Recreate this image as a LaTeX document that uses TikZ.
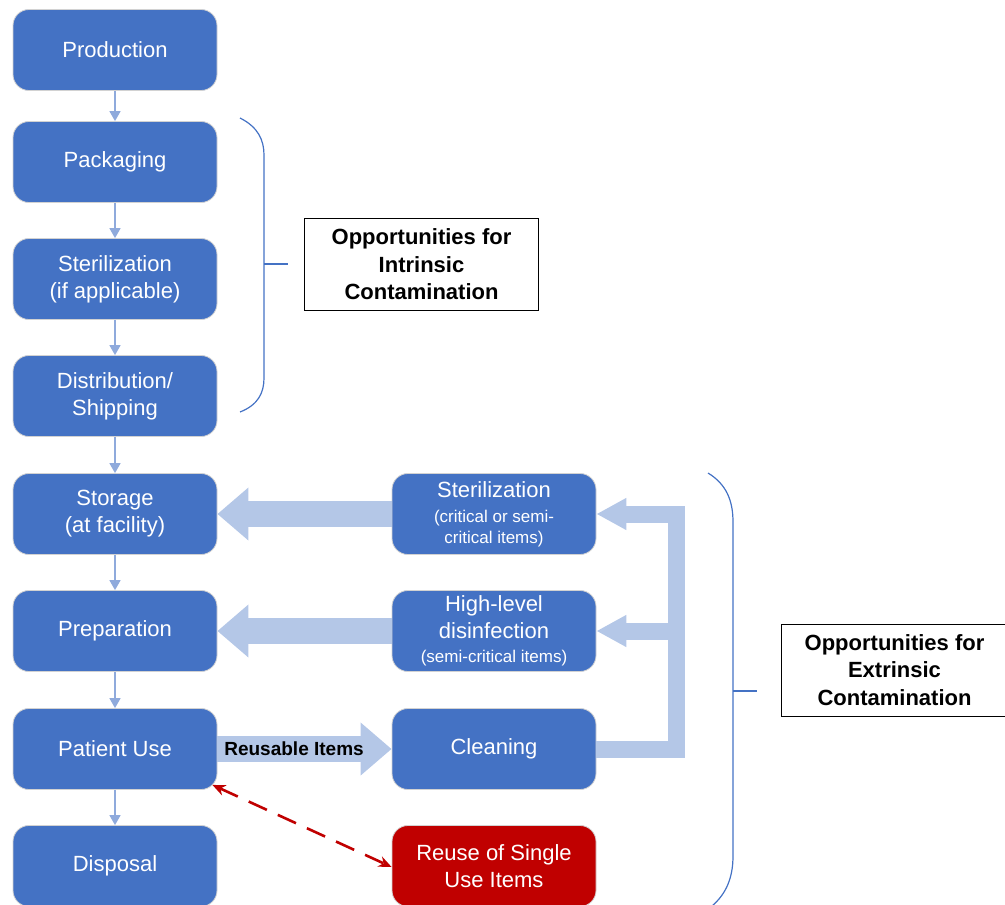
\documentclass[tikz,border=0pt]{standalone}
\usepackage{fontspec}
\setmainfont{Liberation Sans}
\usetikzlibrary{arrows.meta}
\definecolor{stepBlue}{HTML}{4472C4}
\definecolor{flowBlue}{HTML}{B4C7E7}
\definecolor{linkBlue}{HTML}{8FAADC}
\definecolor{reuseRed}{HTML}{C00000}
\newcommand{\smallnote}[1]{{\fontsize{17}{21}\selectfont #1}}
\tikzset{
  stage/.style={rectangle, rounded corners=16pt, fill=stepBlue, draw=gray!35, line width=0.8pt, text=white, minimum width=204pt, minimum height=81pt, align=center, font={\fontsize{22}{27}\selectfont}},
  badStage/.style={stage, fill=reuseRed},
%  note box on the right of each bracket
  note/.style={rectangle, draw=black, line width=1pt, fill=white, align=center, minimum height=92pt, font={\fontsize{22}{27.5}\selectfont\bfseries}},
  nextOp/.style={draw=linkBlue, line width=1.6pt, -{Triangle[width=11pt,length=10pt]}},
  bigFlow/.style={draw=flowBlue, line width=26pt, -{Triangle[width=51pt,length=31pt]}},
  backFlow/.style={draw=flowBlue, line width=17pt, line join=miter, -{Triangle[width=30pt,length=30pt]}},
  riskOp/.style={draw=reuseRed, line width=2.6pt, dash pattern=on 20pt off 12pt, {Stealth[length=13pt,width=11pt]}-{Stealth[length=13pt,width=11pt]}},
  bracket/.style={draw=stepBlue, line width=1.2pt}
}

\begin{document}
\begin{tikzpicture}[x=1pt, y=-1pt]
  \useasboundingbox (0,0) rectangle (1005,905);

  % left column
  \node[stage] (prod) at (115,50) {Production};
  \node[stage] (pack) at (115,162) {Packaging};
  \node[stage] (lster) at (115,279) {Sterilization\\(if applicable)};
  \node[stage] (dist) at (115,396) {Distribution/\\Shipping};
  \node[stage] (store) at (115,514) {Storage\\(at facility)};
  \node[stage] (prep) at (115,631) {Preparation};
  \node[stage] (use) at (115,749) {Patient Use};
  \node[stage] (disp) at (115,866) {Disposal};

  % reprocessing column
  \node[stage] (rster) at (494,514) {Sterilization\\[-2pt]\smallnote{(critical or semi-}\\[-6pt]\smallnote{critical items)}};
  \node[stage] (hld) at (494,631) {High-level\\disinfection\\[-3pt]\smallnote{(semi-critical items)}};
  \node[stage] (clean) at (494,749) {Cleaning};
  \node[badStage] (reuse) at (494,866) {Reuse of Single\\Use Items};

  \foreach \a/\b in {prod/pack, pack/lster, lster/dist, dist/store, store/prep, prep/use, use/disp}
    \draw[nextOp] (\a) -- (\b);

  \draw[bigFlow] (rster) -- (store);
  \draw[bigFlow] (hld) -- (prep);
  \draw[bigFlow] (use) -- node[pos=0.44, text=black, font={\fontsize{19}{22}\selectfont\bfseries}] (reusable) {Reusable Items} (clean);

  \draw[backFlow] (clean.east) -- ++(80,0) coordinate (turn) |- (rster.east);
  \draw[backFlow] (turn |- hld.east) -- (hld.east);

  \draw[riskOp] ([xshift=-5pt,yshift=5pt]use.south east) -- ([yshift=-1pt]reuse.west);

  % brackets
  \draw[bracket] (240,118) .. controls (258,127) and (264,140) .. (264,155) -- (264,378) .. controls (264,393) and (258,405) .. (240,412);
  \draw[bracket] (264,264) -- (288,264);
  \node[note, minimum width=234pt] (intr) at (421.5,264.5) {Opportunities for\\Intrinsic\\Contamination};

  \draw[bracket] (708,473) .. controls (726,484) and (733,500) .. (733,522) -- (733,856) .. controls (733,878) and (726,894) .. (712,906);
  \draw[bracket] (733,691) -- (757,691);
  \node[note, minimum width=227pt] (extr) at (894.5,670) {Opportunities for\\Extrinsic\\Contamination};

\end{tikzpicture}
\end{document}
